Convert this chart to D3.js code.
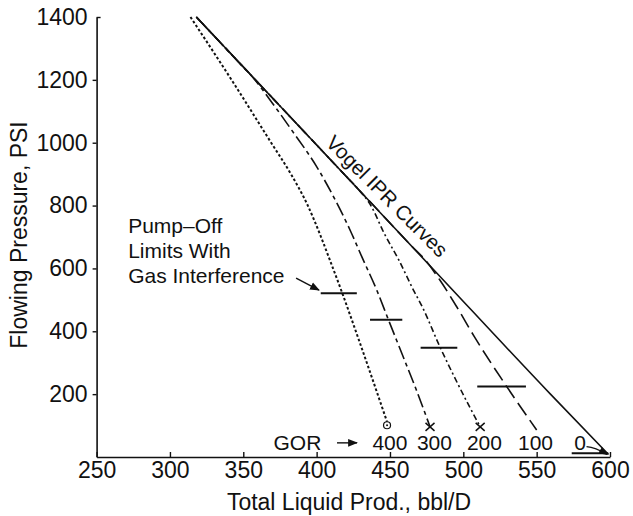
<!DOCTYPE html>
<html>
<head>
<meta charset="utf-8">
<script src="https://cdn.jsdelivr.net/npm/d3@7"></script>
<style>
  body { margin: 0; background: #fff; }
  svg text { font-family: "Liberation Sans", Arial, Helvetica, sans-serif; fill: #111; }
</style>
</head>
<body>
<div id="chart"></div>
<script>
// values: [liquid rate bbl/D, flowing pressure psi]
const xTicks = [250, 300, 350, 400, 450, 500, 550, 600];
const yTicks = [200, 400, 600, 800, 1000, 1200, 1400];

const gor0 = [[318, 1400], [398.6, 1000], [479, 600], [559.4, 200], [599, 8]];
const gor100 = [[318, 1400], [398.6, 1000], [438.9, 800], [465, 670], [474, 627], [484, 563], [495.5, 478], [507.5, 383], [529.6, 224], [550, 86]];
const gor200 = [[318, 1400], [378.4, 1100], [418.7, 900], [428.8, 850], [437, 800], [446, 712], [456, 627], [466, 531], [472, 478], [484, 351], [496, 235], [511.5, 96]];
const gor300 = [[318, 1400], [348, 1250], [357, 1205], [370, 1125], [383, 1040], [400, 924], [413, 815], [423, 720], [431, 635], [441, 531], [449, 436], [459, 319], [468, 213], [477.3, 96]];
const gor400 = [[314, 1400], [342, 1200], [369, 1000], [382.5, 900], [394, 800], [403, 700], [409, 627], [417.5, 521], [429.5, 363], [448, 112]];

// pump-off limits with gas interference: pressure and the bar's rate span
const pumpOffP = [521, 437, 348, 224, 12];
const pumpOffX0 = [402.8, 436.4, 470.9, 509.5, 573.9];
const pumpOffX1 = [427.4, 458.4, 495.9, 542.7, 598.8];

const gorLabels = ["400", "300", "200", "100", "0"];
const gorLabelX = [450, 480.3, 514.4, 549.2, 579.6];

const width = 633, height = 516;
const margin = {top: 17, right: 23, bottom: 59, left: 96.6};

const svg = d3.select("#chart").append("svg")
    .attr("width", width)
    .attr("height", height);

const x = d3.scaleLinear().domain([250, 600]).range([margin.left, width - margin.right]);
const y = d3.scaleLinear().domain([0, 1400]).range([height - margin.bottom, margin.top]);

// axes
const xAxis = svg.append("g")
    .attr("transform", "translate(0," + y(0) + ")")
    .call(d3.axisBottom(x).tickValues(xTicks).tickFormat(d3.format("d"))
        .tickSizeInner(-5).tickSizeOuter(0).tickPadding(5));
const yAxis = svg.append("g")
    .attr("transform", "translate(" + x(250) + ",0)")
    .call(d3.axisLeft(y).tickValues(yTicks).tickFormat(d3.format("d"))
        .tickSizeInner(4).tickSizeOuter(0).tickPadding(5));

[xAxis, yAxis].forEach(function (g) {
    g.select(".domain").attr("stroke", "#111").attr("stroke-width", 1.6);
    g.selectAll(".tick line").attr("stroke", "#111").attr("stroke-width", 1.4);
    g.selectAll(".tick text").attr("font-size", 23).attr("fill", "#111")
        .style("font-family", "'Liberation Sans', Arial, sans-serif");
});
yAxis.select(".tick:last-of-type line").attr("x1", 0).attr("x2", 4);

svg.append("text")
    .attr("x", 349).attr("y", 510)
    .attr("text-anchor", "middle")
    .attr("font-size", 23)
    .text("Total Liquid Prod., bbl/D");

svg.append("text")
    .attr("transform", "translate(27,235) rotate(-90)")
    .attr("text-anchor", "middle")
    .attr("font-size", 23)
    .text("Flowing Pressure, PSI");

// curves
const line = d3.line()
    .x(d => x(d[0]))
    .y(d => y(d[1]))
    .curve(d3.curveMonotoneX);

const curves = [
    {data: gor400, dash: "2.6,2.2", w: 2},
    {data: gor300, dash: "14,4,4,4", w: 1.6},
    {data: gor200, dash: "6,3,2,3", w: 1.6},
    {data: gor100, dash: "15,6", w: 1.6},
    {data: gor0, dash: null, w: 1.6}
];

svg.append("g")
    .selectAll("path")
    .data(curves)
    .join("path")
    .attr("d", d => line(d.data))
    .attr("fill", "none")
    .attr("stroke", "#111")
    .attr("stroke-width", d => d.w)
    .attr("stroke-dasharray", d => d.dash);

// pump-off bars
svg.append("g")
    .selectAll("line")
    .data(pumpOffP)
    .join("line")
    .attr("x1", (d, i) => x(pumpOffX0[i]))
    .attr("x2", (d, i) => x(pumpOffX1[i]))
    .attr("y1", d => y(d))
    .attr("y2", d => y(d))
    .attr("stroke", "#111")
    .attr("stroke-width", 2);

// end symbols
const circEnd = gor400[gor400.length - 1];
svg.append("circle")
    .attr("cx", x(circEnd[0])).attr("cy", y(circEnd[1] - 11))
    .attr("r", 3.5).attr("fill", "none").attr("stroke", "#111").attr("stroke-width", 1.2);
svg.append("circle")
    .attr("cx", x(circEnd[0])).attr("cy", y(circEnd[1] - 11))
    .attr("r", 1).attr("fill", "#111");

[gor300, gor200].forEach(function (s) {
    const e = s[s.length - 1];
    const cx = x(e[0]), cy = y(e[1]);
    svg.append("path")
        .attr("d", "M" + (cx - 4.5) + "," + (cy - 4) + "L" + (cx + 4.5) + "," + (cy + 4) +
                   "M" + (cx - 4.5) + "," + (cy + 4) + "L" + (cx + 4.5) + "," + (cy - 4))
        .attr("stroke", "#111").attr("stroke-width", 1.5);
});

// arrow head marker
svg.append("defs").append("marker")
    .attr("id", "arr")
    .attr("viewBox", "0 0 10 10")
    .attr("refX", 9).attr("refY", 5)
    .attr("markerWidth", 7).attr("markerHeight", 7)
    .attr("orient", "auto")
    .append("path")
    .attr("d", "M0,1L10,5L0,9Z")
    .attr("fill", "#111");

// annotations
const note = svg.append("text")
    .attr("x", x(271.5)).attr("y", y(712))
    .attr("font-size", 21);
["Pump–Off", "Limits With", "Gas Interference"].forEach(function (t, i) {
    note.append("tspan").attr("x", x(271.5)).attr("dy", i === 0 ? 0 : 25).text(t);
});
svg.append("line")
    .attr("x1", x(386)).attr("y1", y(569))
    .attr("x2", x(401.6)).attr("y2", y(531))
    .attr("stroke", "#111").attr("stroke-width", 1.4)
    .attr("marker-end", "url(#arr)");

svg.append("text")
    .attr("transform", "translate(" + x(405.6) + "," + y(996) + ") rotate(45)")
    .attr("font-size", 20.5)
    .text("Vogel IPR Curves");

svg.append("text")
    .attr("x", x(386.9)).attr("y", y(22))
    .attr("text-anchor", "middle")
    .attr("font-size", 21)
    .text("GOR");
svg.append("line")
    .attr("x1", x(413.9)).attr("y1", y(45))
    .attr("x2", x(427.5)).attr("y2", y(45))
    .attr("stroke", "#111").attr("stroke-width", 1.4)
    .attr("marker-end", "url(#arr)");

svg.append("g")
    .selectAll("text")
    .data(gorLabels)
    .join("text")
    .attr("x", (d, i) => x(gorLabelX[i]))
    .attr("y", y(22))
    .attr("text-anchor", "middle")
    .attr("font-size", 21)
    .text(d => d);

svg.append("path")
    .attr("d", "M" + x(584) + "," + y(33) + "Q" + x(590) + "," + y(31) + " " + x(598) + "," + y(8))
    .attr("fill", "none")
    .attr("stroke", "#111").attr("stroke-width", 1.3)
    .attr("marker-end", "url(#arr)");
</script>
</body>
</html>
